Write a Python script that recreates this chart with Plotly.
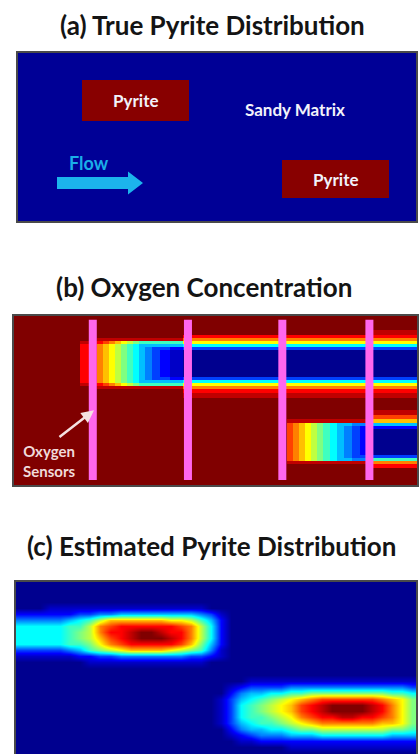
import plotly.graph_objects as go

W, H = 420, 754

# Model section: 100 units long (flow direction) and 42.5 units deep
SECTION_LEN = 100.0
SECTION_DEPTH = 42.5

# (a) true pyrite lenses (model units)
pyrite_x0 = [16.2, 66.2]
pyrite_x1 = [43.0, 93.0]
pyrite_y0 = [7.0, 27.0]
pyrite_y1 = [17.2, 36.5]

# (b) simulated oxygen concentration on a coarse grid (cell edges in model units);
# each character is a level 0..16 (base-17 digit), 16 = fully oxygenated
o2_x_edges = [0, 16.5, 20.7, 22.2, 23.7, 25.2, 26.7, 28.1, 29.6, 31.1, 32.6, 34.3,
              36.3, 38.8, 42.0, 67.7, 69.1, 70.6, 72.1, 73.6, 75.1, 76.5, 78.3,
              80.0, 81.7, 83.7, 85.7, 87.2, 100]
o2_y_edges = [0, 3.7, 5.0, 5.7, 6.5, 7.2, 8.0, 8.7, 15.4, 16.1, 16.9, 17.6, 18.4,
              19.4, 20.6, 23.6, 24.9, 25.8, 26.8, 27.6, 28.3, 34.8, 35.5, 36.3,
              37.0, 38.0, 42.5]
o2_levels = [
    "gggggggggggggggggggggggggggg",
    "gggggggggggggggggggggggggggf",
    "ggggggggggggggeeeeeeeeeeeeee",
    "ggffffffffffffcccccccccccccc",
    "gfedcba9877777aaaaaaaaaaaaaa",
    "gecba98765555566666666666666",
    "gecba98765433233333333333333",
    "gecba98765432100000000000000",
    "gecba98765433233333333333333",
    "gecba98765555566666666666666",
    "gfedcba9877777aaaaaaaaaaaaaa",
    "ggffffffffffffcccccccccccccc",
    "ggggggggggggggeeeeeeeeeeeeee",
    "ggggggggggggggffffffffffffff",
    "gggggggggggggggggggggggggggg",
    "gggggggggggggggggggggggggggf",
    "gggggggggggggggggggggggggggd",
    "gggggggggggggggffffffffffffb",
    "gggggggggggggggdcba987655445",
    "gggggggggggggggdcba987654322",
    "gggggggggggggggdcba987654320",
    "gggggggggggggggdcba987654333",
    "gggggggggggggggdcba987655447",
    "gggggggggggggggffffffffffffc",
    "ggggggggggggggggggggggggggge",
    "gggggggggggggggggggggggggggg",
]
sensor_x = [19.7, 43.2, 66.5, 88.0]

# (c) estimated pyrite content from the sensor data, same level coding
est_x0, est_dx = 1.25, 2.5
est_y0, est_dy = 0.75, 1.5
est_levels = [
    "0000000000000000000000000000000000000000",
    "0000000000000000000000000000000000000000",
    "0000000000000000000000000000000000000000",
    "0000000000000000000000000000000000000000",
    "0001111111111111111000000000000000000000",
    "2222223344555555554310000000000000000000",
    "444445679bbbbbbaa97520000000000000000000",
    "66666779cdeeeeeedc9620000000000000000000",
    "66666789ceefggfeec9620000000000000000000",
    "66666789bdefgggfec9620000000000000000000",
    "66666778acdeeeeedb8520000000000000000000",
    "3333345789abbbba987410000000000000000000",
    "1111112233444444433210000000000000000000",
    "0000000111111111111000000000000000000000",
    "0000000000000000000000000000000000000000",
    "0000000000000000000000000000000000000000",
    "0000000000000000000000011111111111111111",
    "0000000000000000000001233334444444444443",
    "0000000000000000000002455667788888888776",
    "000000000000000000001356789abcddddddcba8",
    "00000000000000000000136789abdefggggfeca8",
    "00000000000000000000136789abdefggggfeca8",
    "000000000000000000001367789acdeeffeedca8",
    "0000000000000000000013567789abccccccbba8",
    "0000000000000000000002455667889999999887",
    "0000000000000000000001234445556666666555",
    "0000000000000000000000112222222222222222",
    "0000000000000000000000000001111111111111",
    "0000000000000000000000000000000000000000",
]


def decode(rows):
    return [[int(ch, 17) / 16.0 for ch in r] for r in rows]


for r in o2_levels:
    assert len(r) == len(o2_x_edges) - 1, (r, len(r))
assert len(o2_levels) == len(o2_y_edges) - 1
for r in est_levels:
    assert len(r) == 40, (r, len(r))

JET = [[0.0, "rgb(0,0,143)"], [0.125, "rgb(0,0,255)"], [0.375, "rgb(0,255,255)"],
       [0.625, "rgb(255,255,0)"], [0.875, "rgb(255,0,0)"], [1.0, "rgb(128,0,0)"]]

# grid for panel (a) built from lens boundaries
xe = sorted(set([0.0, SECTION_LEN] + pyrite_x0 + pyrite_x1))
ye = sorted(set([0.0, SECTION_DEPTH] + pyrite_y0 + pyrite_y1))
za = []
for j in range(len(ye) - 1):
    yc = 0.5 * (ye[j] + ye[j + 1])
    row = []
    for i in range(len(xe) - 1):
        xc = 0.5 * (xe[i] + xe[i + 1])
        inside = any(a <= xc <= b and c <= yc <= d for a, b, c, d in
                     zip(pyrite_x0, pyrite_x1, pyrite_y0, pyrite_y1))
        row.append(1 if inside else 0)
    za.append(row)

fig = go.Figure()

fig.add_trace(go.Heatmap(
    x=xe, y=ye, z=za, zmin=0, zmax=1, showscale=False, hoverinfo="skip",
    colorscale=[[0, "#000096"], [1, "#880000"]], xaxis="x", yaxis="y"))

# flow arrow (block arrow in panel a)
ARROW_TAIL, ARROW_TIP, ARROW_Y = 10.0, 31.5, 32.75
SHAFT_H, HEAD_H, HEAD_L = 1.5, 2.9, 3.75
fig.add_trace(go.Scatter(
    x=[ARROW_TAIL, ARROW_TIP - HEAD_L, ARROW_TIP - HEAD_L, ARROW_TIP,
       ARROW_TIP - HEAD_L, ARROW_TIP - HEAD_L, ARROW_TAIL, ARROW_TAIL],
    y=[ARROW_Y - SHAFT_H, ARROW_Y - SHAFT_H, ARROW_Y - HEAD_H, ARROW_Y,
       ARROW_Y + HEAD_H, ARROW_Y + SHAFT_H, ARROW_Y + SHAFT_H, ARROW_Y - SHAFT_H],
    mode="lines", fill="toself", fillcolor="#1cb4ec", line=dict(width=0),
    hoverinfo="skip", xaxis="x", yaxis="y"))

fig.add_trace(go.Heatmap(
    x=o2_x_edges, y=o2_y_edges, z=decode(o2_levels), zmin=0, zmax=1,
    colorscale=JET, showscale=False, hoverinfo="skip", xaxis="x2", yaxis="y2"))

sx, sy = [], []
for s in sensor_x:
    sx += [s, s, None]
    sy += [1.2, 41.0, None]
fig.add_trace(go.Scatter(x=sx, y=sy, mode="lines", hoverinfo="skip",
                         line=dict(color="#ff66ee", width=8),
                         xaxis="x2", yaxis="y2"))

fig.add_trace(go.Heatmap(
    x0=est_x0, dx=est_dx, y0=est_y0, dy=est_dy, z=decode(est_levels),
    zmin=0, zmax=1, zsmooth="best", colorscale=JET, showscale=False,
    hoverinfo="skip", xaxis="x3", yaxis="y3"))


def xdom(l, r):
    return [l / W, r / W]


def ydom(t, b):
    return [max(0.0, 1 - b / H), 1 - t / H]


panels = {
    "": ((17, 417), (52, 222), SECTION_DEPTH),
    "2": ((13, 418), (315, 486), SECTION_DEPTH),
    "3": ((15, 417), (581, 754), 43.0),
}
ax_common = dict(visible=False, showgrid=False, zeroline=False, fixedrange=True)
layout_axes = {}
shapes = []
for k, ((l, r), (t, b), depth) in panels.items():
    layout_axes["xaxis" + k] = dict(domain=xdom(l, r), range=[0, SECTION_LEN],
                                   anchor="y" + k, **ax_common)
    layout_axes["yaxis" + k] = dict(domain=ydom(t, b), range=[depth, 0],
                                   anchor="x" + k, **ax_common)
    shapes.append(dict(type="rect", xref="paper", yref="paper",
                       x0=l / W, x1=r / W, y0=1 - b / H if b < H else -0.02,
                       y1=1 - t / H, line=dict(color="#4a4a4a", width=2),
                       fillcolor="rgba(0,0,0,0)", layer="above"))

TITLE_FONT = dict(family="Lato", size=26, color="#141414")
LABEL_FONT = dict(family="Lato", size=17, color="#f2f2fa")
SENSOR_FONT = dict(family="Lato", size=15, color="#f0dada")


def title(text, px, py):
    return dict(text="<b>%s</b>" % text, x=px / W, y=1 - py / H, xref="paper",
                yref="paper", xanchor="center", yanchor="middle",
                showarrow=False, font=TITLE_FONT)


annotations = [
    title("(a) True Pyrite Distribution", 212, 25),
    title("(b) Oxygen Concentration", 204, 287),
    title("(c) Estimated Pyrite Distribution", 211, 546),
    dict(text="<b>Sandy Matrix</b>", x=69.6, y=14.3, xref="x", yref="y",
         showarrow=False, font=LABEL_FONT, yanchor="middle"),
    dict(text="<b>Flow</b>", x=17.9, y=27.8, xref="x", yref="y", showarrow=False,
         font=dict(family="Lato", size=18, color="#1aaee8"), yanchor="middle"),
    dict(text="<b>Oxygen<br>Sensors</b>", x=9.0, y=36.4, xref="x2", yref="y2",
         showarrow=False, font=SENSOR_FONT, yanchor="middle", align="center"),
    dict(text="", x=20.0, y=23.7, ax=11.1, ay=30.6, xref="x2", yref="y2",
         axref="x2", ayref="y2", showarrow=True, arrowhead=2, arrowsize=1.0,
         arrowwidth=2.5, arrowcolor="#f5e2e2", standoff=0),
]
for a, b, c, d in zip(pyrite_x0, pyrite_x1, pyrite_y0, pyrite_y1):
    annotations.append(dict(text="<b>Pyrite</b>", x=0.5 * (a + b), y=0.5 * (c + d),
                            xref="x", yref="y", showarrow=False, font=LABEL_FONT,
                            yanchor="middle"))

fig.update_layout(
    width=W, height=H, margin=dict(l=0, r=0, t=0, b=0),
    paper_bgcolor="white", plot_bgcolor="white", showlegend=False,
    hovermode=False, shapes=shapes, annotations=annotations, **layout_axes)

fig.write_html("out.html", config={"displayModeBar": False})
